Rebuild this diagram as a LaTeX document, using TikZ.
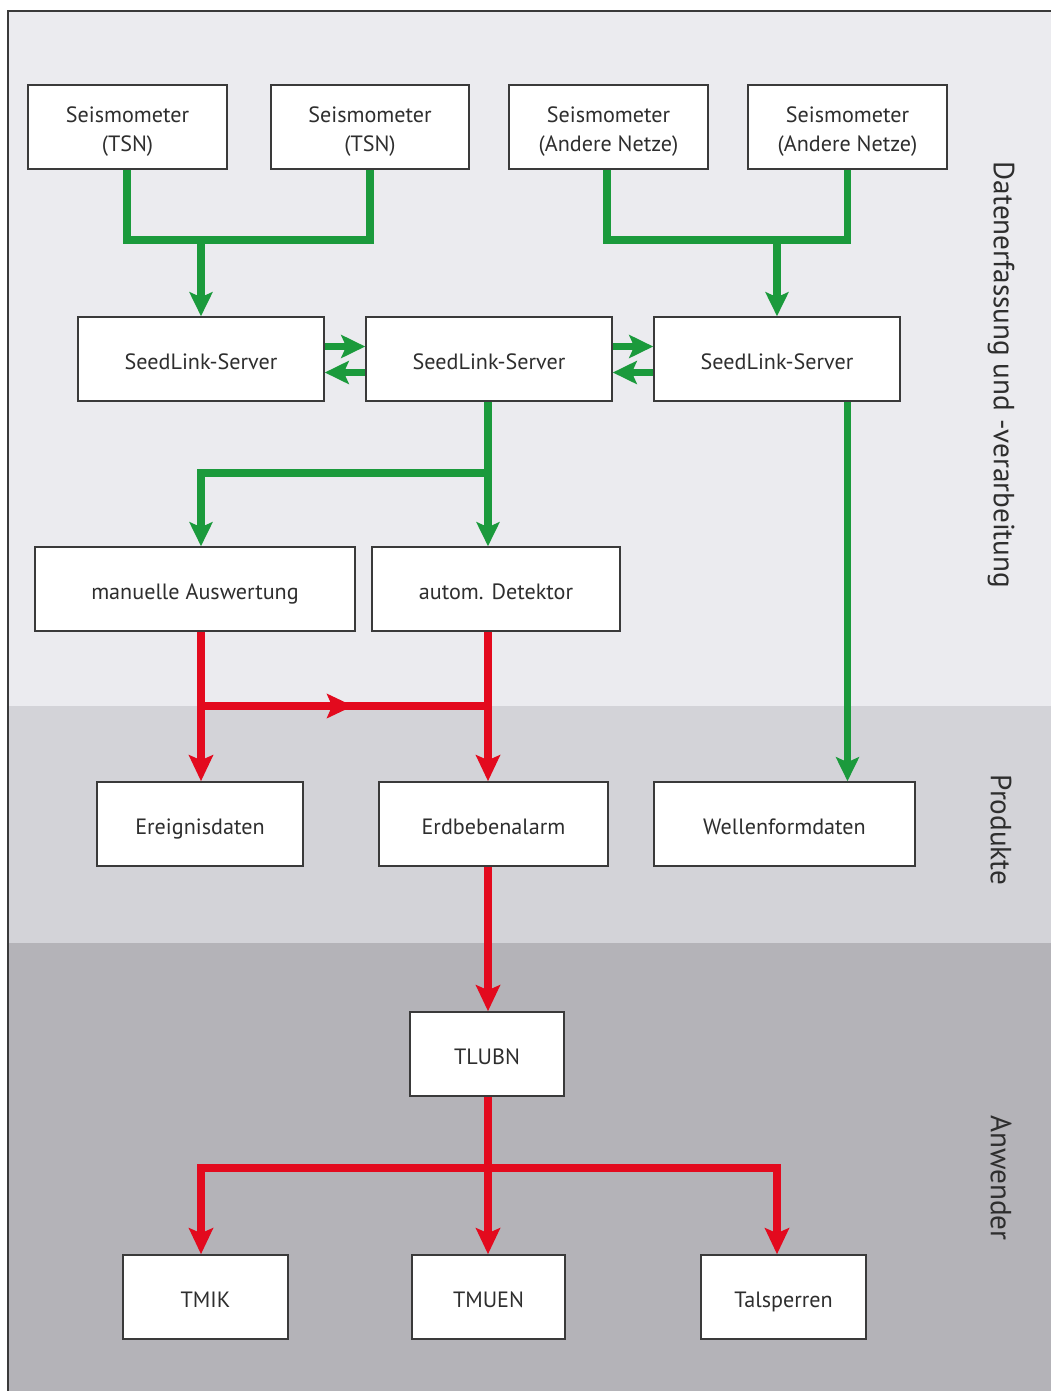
\documentclass[tikz,border=0pt]{standalone}
\usepackage{fontspec}
\setmainfont{PT Sans}
\usetikzlibrary{arrows.meta,calc}

\definecolor{bandA}{HTML}{EBEBEF}
\definecolor{bandB}{HTML}{D3D3D8}
\definecolor{bandC}{HTML}{B4B3B8}
\definecolor{flowgreen}{HTML}{1B9A3C}
\definecolor{flowred}{HTML}{E30A1E}
\definecolor{boxline}{HTML}{3A3A3A}
\definecolor{txt}{HTML}{2E2E2E}

\begin{document}
\begin{tikzpicture}[
	box/.style={draw=boxline,line width=0.9pt,fill=white,minimum height=1.68cm,
		align=center,text=txt,font=\fontsize{12.6}{16.5}\selectfont,inner sep=0pt,
		text height=2.55ex,text depth=0.2ex},
	twobox/.style={box,text height=16.5pt+2.4ex}, % two lines of text
	gline/.style={draw=flowgreen,line width=4.5pt},
	rline/.style={draw=flowred,line width=4.2pt},
	garrow/.style={gline,-{Stealth[length=0.48cm,width=0.46cm,inset=0.1cm]}}, % green arrows
	rarrow/.style={rline,-{Stealth[length=0.52cm,width=0.48cm,inset=0.1cm]}}, % red arrows
	side/.style={rotate=-90,text=txt,font=\fontsize{16.6}{19}\selectfont}
]
\useasboundingbox (0,0) rectangle (21.02,-27.82);
% bands
\fill[white] (0,0) rectangle (21.02,-27.82);
\fill[bandA] (0.16,-0.22) rectangle (21.02,-14.12);
\fill[bandB] (0.16,-14.12) rectangle (21.02,-18.86);
\fill[bandC] (0.16,-18.86) rectangle (21.02,-27.82);
\draw[boxline,line width=1pt] (0.16,-27.82) -- (0.16,-0.22) -- (21.02,-0.22);

\node[side] (lab1) at (20.02,-7.5) {Datenerfassung und -verarbeitung};
\node[side] (lab2) at (20.02,-16.6) {Produkte};
\node[side] (lab3) at (20.02,-23.56) {Anwender};

% sources
\node[twobox,minimum width=3.98cm] (S1) at (2.55,-2.54) {Seismometer\\(TSN)};
\node[twobox,minimum width=3.96cm] (S2) at (7.40,-2.54) {Seismometer\\(TSN)};
\node[twobox,minimum width=3.98cm] (S3) at (12.17,-2.54) {Seismometer\\(Andere Netze)};
\node[twobox,minimum width=3.98cm] (S4) at (16.95,-2.54) {Seismometer\\(Andere Netze)};

% servers
\node[box,minimum width=4.92cm] (SL1) at (4.02,-7.18) {SeedLink-Server};
\node[box,minimum width=4.92cm] (SL2) at (9.78,-7.18) {SeedLink-Server};
\node[box,minimum width=4.92cm] (SL3) at (15.54,-7.18) {SeedLink-Server};

\node[box,minimum width=6.40cm] (man) at (3.90,-11.78) {manuelle Auswertung};
\node[box,minimum width=4.96cm] (auto) at (9.92,-11.78) {autom. Detektor};

% products
\node[box,minimum width=4.12cm] (ereig) at (4.00,-16.48) {Ereignisdaten};
\node[box,minimum width=4.58cm] (alarm) at (9.87,-16.48) {Erdbebenalarm};
\node[box,minimum width=5.22cm] (wellen) at (15.69,-16.48) {Wellenformdaten};

% users
\node[box,minimum width=3.08cm] (tlubn) at (9.74,-21.08) {TLUBN};
\node[box,minimum width=3.30cm] (tmik) at (4.11,-25.94) {TMIK};
\node[box,minimum width=3.06cm] (tmuen) at (9.77,-25.94) {TMUEN};
\node[box,minimum width=3.30cm] (talsp) at (15.67,-25.94) {Talsperren};

\coordinate (jA) at (4.02,-4.80);
\coordinate (jB) at (15.54,-4.80);
\coordinate (jC) at (9.76,-9.46);
\coordinate (jD) at (4.02,-14.12);
\coordinate (jE) at (9.76,-14.12);
\coordinate (jF) at (9.76,-23.36);

% green flow
\draw[gline] ([xshift=-0.01cm]S1.south) |- (S2.south |- jA) -- (S2.south);
\draw[garrow] (jA) -- (SL1.north);
\draw[gline] ([xshift=-0.03cm]S3.south) |- (S4.south |- jB) -- (S4.south);
\draw[garrow] (jB) -- (SL3.north);
\draw[garrow] ([yshift=0.25cm]SL1.east) -- ([yshift=0.25cm]SL2.west);
\draw[garrow] ([yshift=-0.27cm]SL2.west) -- ([yshift=-0.27cm]SL1.east);
\draw[garrow] ([yshift=0.25cm]SL2.east) -- ([yshift=0.25cm]SL3.west);
\draw[garrow] ([yshift=-0.27cm]SL3.west) -- ([yshift=-0.27cm]SL2.east);
\draw[garrow] (jC |- SL2.south) -- (jC |- auto.north);
\draw[garrow] (jC) -| (jD |- man.north);
\draw[garrow] (S4.south |- SL3.south) -- (S4.south |- wellen.north);

% red flow
\draw[rarrow] (jD |- man.south) -- (jD |- ereig.north);
\draw[rarrow] (jE |- auto.south) -- (jE |- alarm.north);
\draw[rline] (jD) -- (jE);
\draw[rarrow] (jD) -- ($(jD)!0.53!(jE)$);
\draw[rarrow] (jE |- alarm.south) -- (jE |- tlubn.north);
\draw[rline] (jE |- tlubn.south) -- (jF);
\draw[rarrow] (jF) -| (jD |- tmik.north);
\draw[rarrow] (jF) -- (jF |- tmuen.north);
\draw[rarrow] (jF) -| (talsp.north -| SL3.north);
\end{tikzpicture}
\end{document}
